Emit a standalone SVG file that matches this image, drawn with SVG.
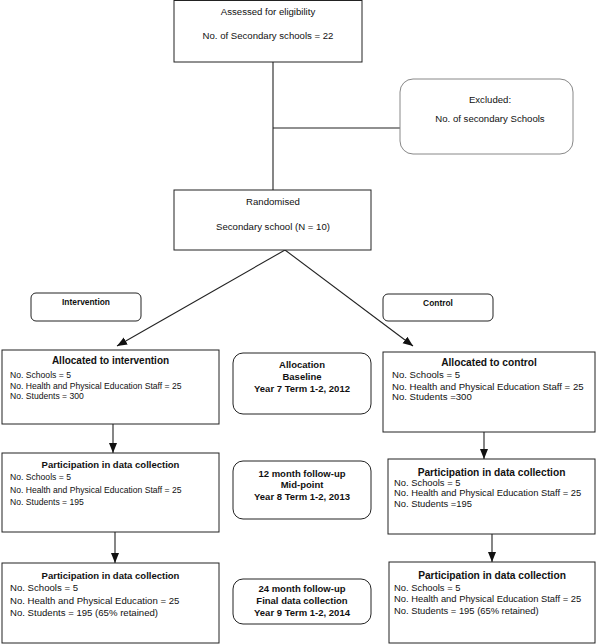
<svg xmlns="http://www.w3.org/2000/svg" width="600" height="644" viewBox="0 0 600 644">
<defs>
<style>
.box{fill:#fff;stroke:#222;stroke-width:1}
.gbox{fill:#fff;stroke:#888;stroke-width:1}
.t{font-family:"Liberation Sans",Arial,sans-serif;fill:#111}
.b{font-weight:bold}
.c{text-anchor:middle}
.ln{fill:none;stroke:#222;stroke-width:1.1}
</style>
<marker id="ah" markerUnits="userSpaceOnUse" markerWidth="10" markerHeight="10" viewBox="0 0 10 10" refX="10" refY="5" orient="auto">
<path d="M0,1 L10,5 L0,9 Z" fill="#111"/>
</marker>
</defs>
<g id="connectors">
<line class="ln" x1="273" y1="62" x2="273" y2="190"/>
<line class="ln" x1="273" y1="128" x2="400" y2="128"/>
<line class="ln" x1="285" y1="250" x2="117" y2="346" marker-end="url(#ah)"/>
<line class="ln" x1="285" y1="250" x2="413" y2="346" marker-end="url(#ah)"/>
<line class="ln" x1="113" y1="424" x2="113" y2="453" marker-end="url(#ah)"/>
<line class="ln" x1="484" y1="432" x2="484" y2="459" marker-end="url(#ah)"/>
<line class="ln" x1="115" y1="532" x2="115" y2="563" marker-end="url(#ah)"/>
<line class="ln" x1="492" y1="534" x2="492" y2="562" marker-end="url(#ah)"/>
</g>
<g id="assessed">
<rect class="box" x="174" y="0.5" width="188" height="61.5"/>
<text class="t c" x="268" y="14.5" font-size="9.6">Assessed for eligibility</text>
<text class="t c" x="268" y="38.5" font-size="9.6">No. of Secondary schools = 22</text>
</g>
<g id="excluded">
<rect class="gbox" x="400" y="79" width="173" height="75" rx="13"/>
<text class="t c" x="490" y="102.5" font-size="9.6">Excluded:</text>
<text class="t c" x="490" y="121.5" font-size="9.6">No. of secondary Schools</text>
</g>
<g id="randomised">
<rect class="box" x="174" y="190" width="197" height="60"/>
<text class="t c" x="273" y="204.5" font-size="9.6">Randomised</text>
<text class="t c" x="273" y="229.5" font-size="9.6">Secondary school (N = 10)</text>
</g>
<g id="intervention">
<rect class="box" x="31" y="293" width="110" height="28" rx="5"/>
<text class="t b c" x="86" y="305" font-size="8.4">Intervention</text>
</g>
<g id="control">
<rect class="box" x="383" y="294" width="110" height="27" rx="5"/>
<text class="t b c" x="438" y="306" font-size="8.4">Control</text>
</g>
<g id="alloc-int">
<rect class="box" x="2" y="350" width="217" height="74"/>
<text class="t b c" x="110.5" y="364.2" font-size="10">Allocated to intervention</text>
<text class="t" x="10" y="377.5" font-size="8.6">No. Schools = 5</text>
<text class="t" x="10" y="389" font-size="8.6">No. Health and Physical Education Staff = 25</text>
<text class="t" x="10" y="399" font-size="8.6">No. Students = 300</text>
</g>
<g id="alloc-ctl">
<rect class="box" x="383" y="352" width="212" height="80"/>
<text class="t b c" x="489" y="365.5" font-size="10.2">Allocated to control</text>
<text class="t" x="392" y="378" font-size="9.6">No. Schools = 5</text>
<text class="t" x="392" y="389.5" font-size="9.6">No. Health and Physical Education Staff = 25</text>
<text class="t" x="392" y="400" font-size="9.6">No. Students =300</text>
</g>
<g id="phase1">
<rect class="box" x="233" y="353" width="138" height="61" rx="10"/>
<text class="t b c" x="302" y="367.5" font-size="9.5">Allocation</text>
<text class="t b c" x="302" y="379.5" font-size="9.5">Baseline</text>
<text class="t b c" x="302" y="391.5" font-size="9.5">Year 7 Term 1-2, 2012</text>
</g>
<g id="part-int-1">
<rect class="box" x="2" y="453" width="217" height="79"/>
<text class="t b c" x="110.5" y="467.5" font-size="9.5">Participation in data collection</text>
<text class="t" x="10" y="480" font-size="8.6">No. Schools = 5</text>
<text class="t" x="10" y="492.5" font-size="8.6">No. Health and Physical Education Staff = 25</text>
<text class="t" x="10" y="505" font-size="8.6">No. Students = 195</text>
</g>
<g id="phase2">
<rect class="box" x="233" y="461" width="138" height="58" rx="10"/>
<text class="t b c" x="302" y="476.5" font-size="9.5">12 month follow-up</text>
<text class="t b c" x="302" y="487.5" font-size="9.5">Mid-point</text>
<text class="t b c" x="302" y="499.5" font-size="9.5">Year 8 Term 1-2, 2013</text>
</g>
<g id="part-ctl-1">
<rect class="box" x="388" y="459" width="207" height="75"/>
<text class="t b c" x="491.5" y="475.5" font-size="10.2">Participation in data collection</text>
<text class="t" x="394" y="486" font-size="9.4">No. Schools = 5</text>
<text class="t" x="394" y="496" font-size="9.4">No. Health and Physical Education Staff = 25</text>
<text class="t" x="394" y="506.5" font-size="9.4">No. Students =195</text>
</g>
<g id="part-int-2">
<rect class="box" x="2" y="563" width="217" height="80"/>
<text class="t b c" x="110.5" y="578.5" font-size="9.5">Participation in data collection</text>
<text class="t" x="10" y="591" font-size="9.6">No. Schools = 5</text>
<text class="t" x="10" y="604" font-size="9.6">No. Health and Physical Education = 25</text>
<text class="t" x="10" y="616" font-size="9.6">No. Students = 195 (65% retained)</text>
</g>
<g id="phase3">
<rect class="box" x="233" y="579" width="138" height="45" rx="10"/>
<text class="t b c" x="302" y="591.5" font-size="9.5">24 month follow-up</text>
<text class="t b c" x="302" y="603.5" font-size="9.5">Final data collection</text>
<text class="t b c" x="302" y="615.5" font-size="9.5">Year 9 Term 1-2, 2014</text>
</g>
<g id="part-ctl-2">
<rect class="box" x="389" y="562" width="206" height="81"/>
<text class="t b c" x="492" y="578.5" font-size="10.2">Participation in data collection</text>
<text class="t" x="394" y="591" font-size="9.4">No. Schools = 5</text>
<text class="t" x="394" y="602" font-size="9.4">No. Health and Physical Education Staff = 25</text>
<text class="t" x="394" y="613.5" font-size="9.4">No. Students = 195 (65% retained)</text>
</g>
</svg>
